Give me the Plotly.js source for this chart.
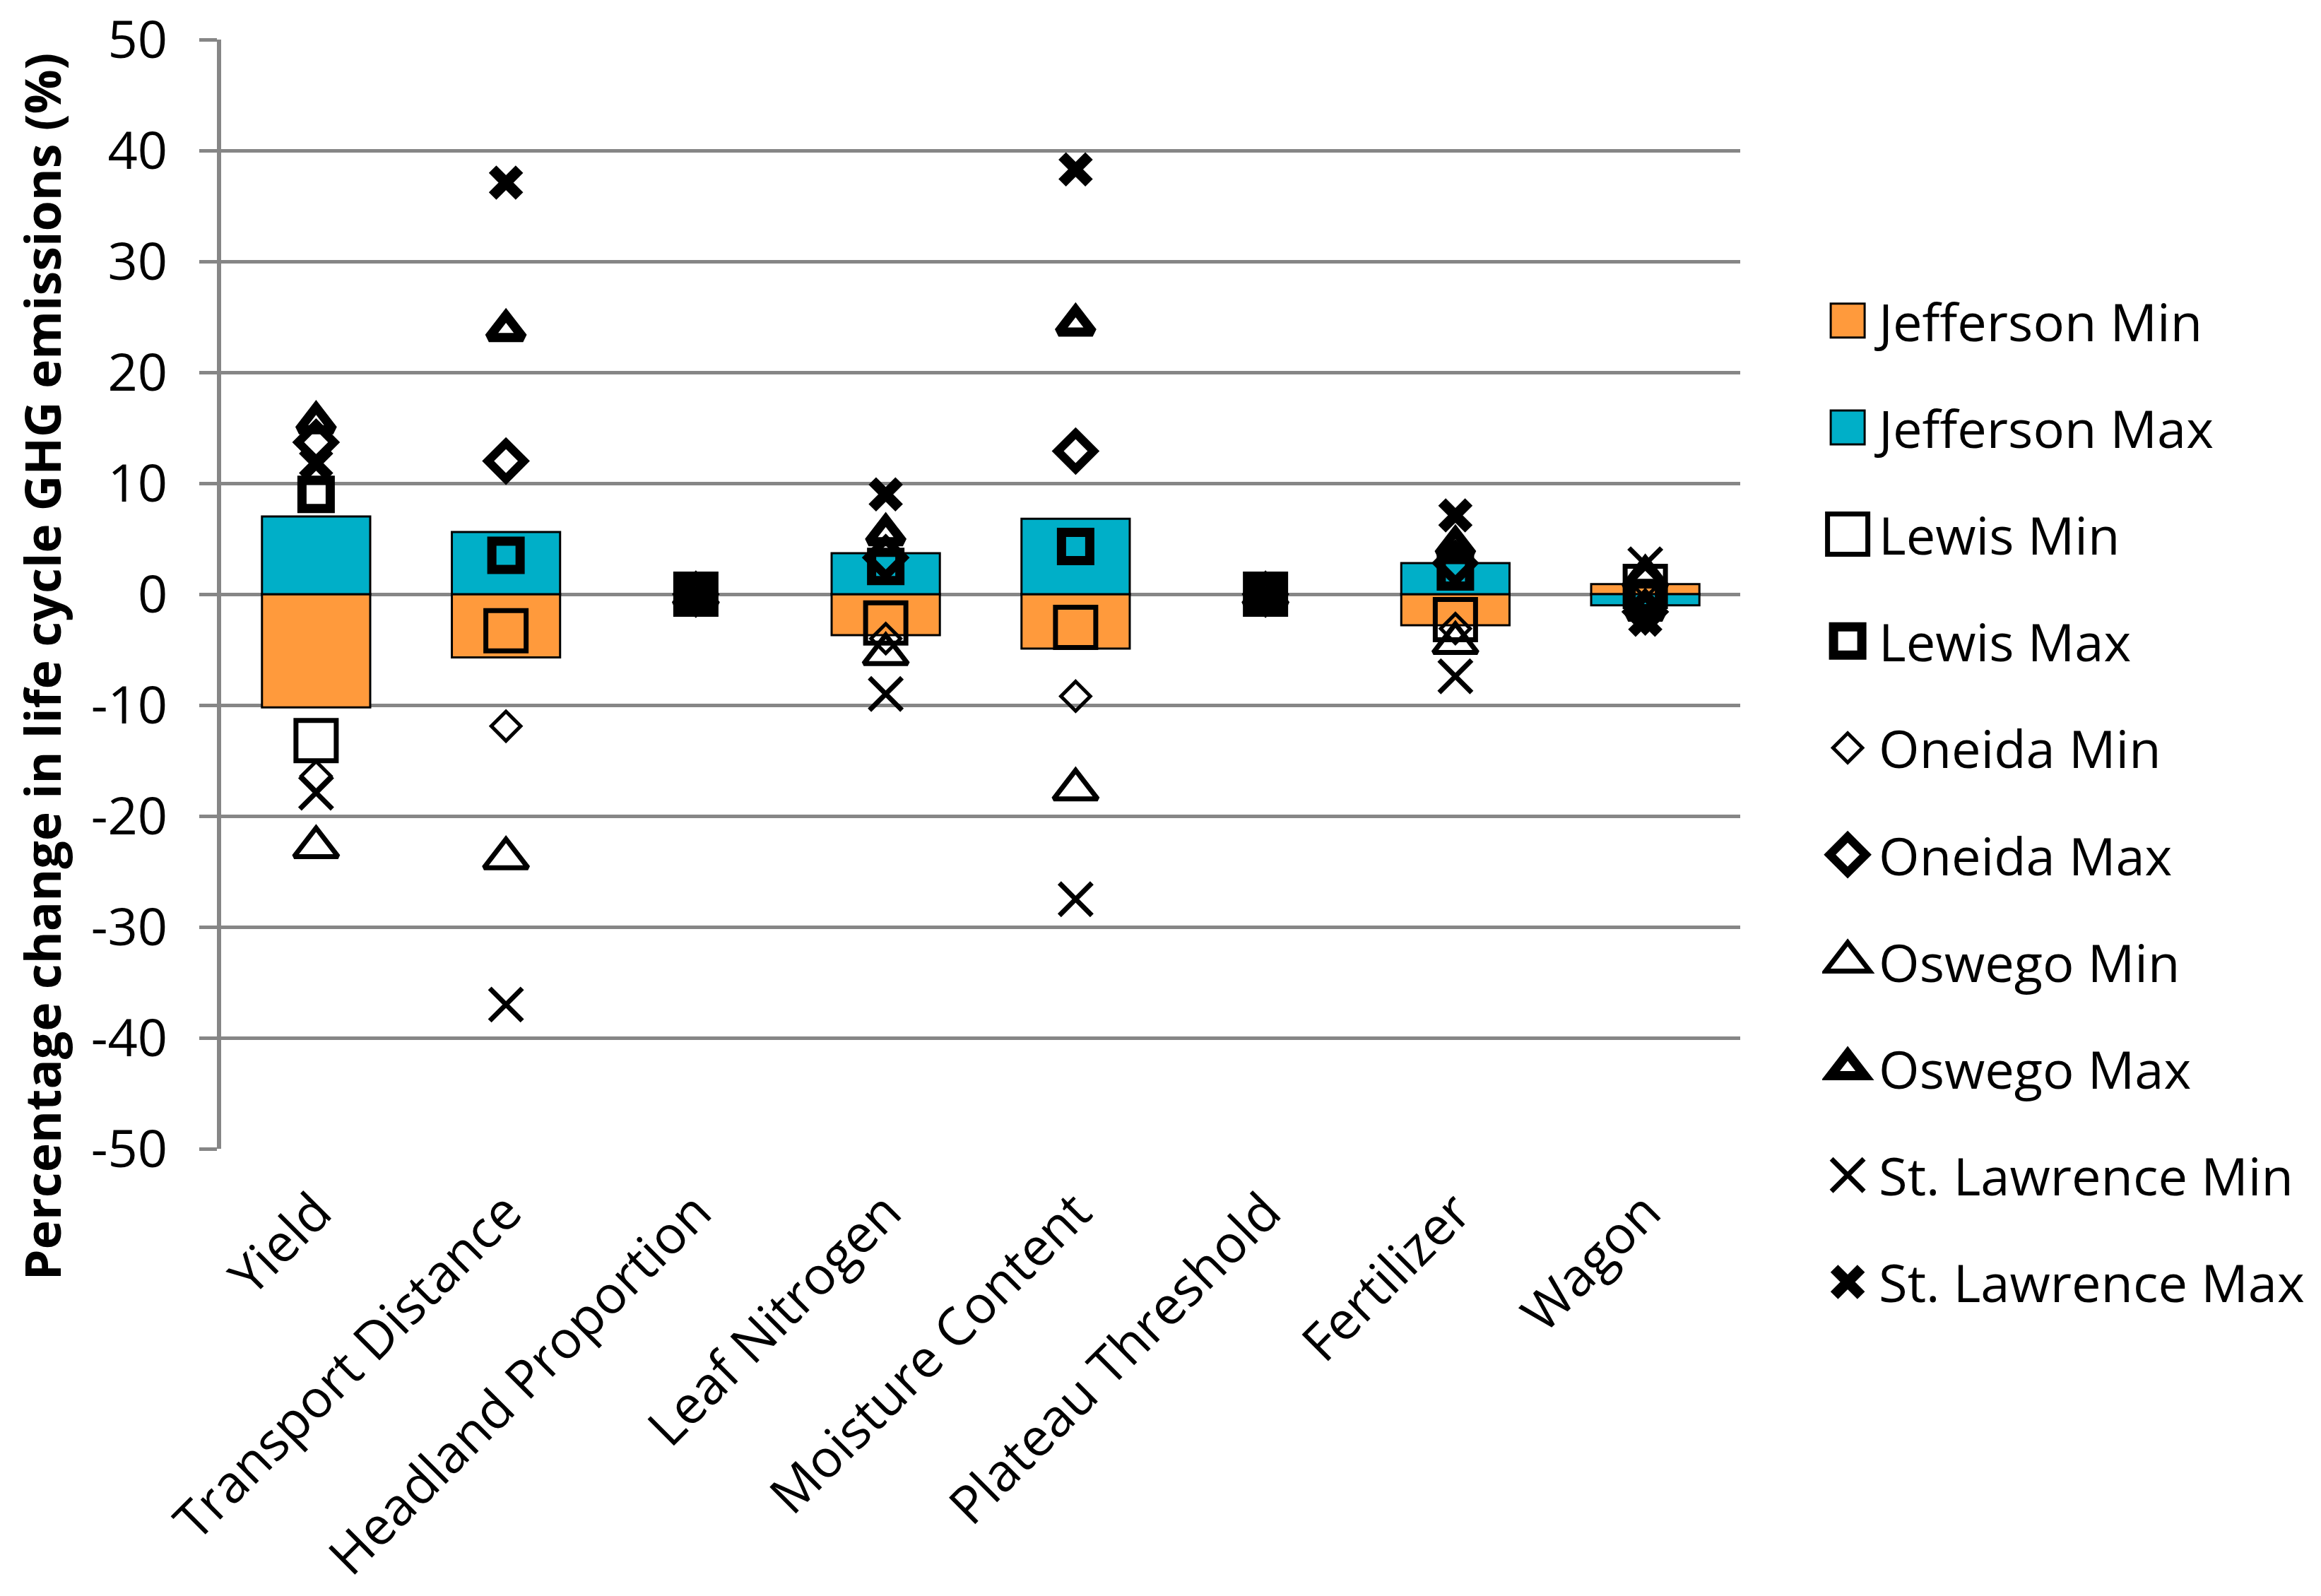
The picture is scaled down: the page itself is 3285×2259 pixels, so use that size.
<!DOCTYPE html>
<html><head><meta charset="utf-8">
<script src="https://cdn.plot.ly/plotly-3.0.1.min.js"></script>
<style>html,body{margin:0;padding:0;background:#fff}</style>
</head><body>
<div id="chart" style="width:3285px;height:2259px"></div>
<script>
const categories = ['Yield','Transport Distance','Headland Proportion','Leaf Nitrogen','Moisture Content','Plateau Threshold','Fertilizer','Wagon'];
const jeffersonMin  = [-10.2, -5.7, 0, -3.7, -4.9, 0, -2.8,  0.9];
const jeffersonMax  = [  7.0,  5.6, 0,  3.7,  6.8, 0,  2.8, -1.0];
const lewisMin      = [-13.2, -3.3, 0, -2.6, -3.0, 0, -2.3,  0.7];
const lewisMax      = [  9.0,  3.5, 0,  2.5,  4.3, 0,  2.0, -0.3];
const oneidaMin     = [-16.4,-11.9, 0, -4.0, -9.2, 0, -3.1,  1.0];
const oneidaMax     = [ 13.7, 12.0, 0,  3.3, 12.9, 0,  2.8, -1.6];
const oswegoMin     = [-22.8,-23.8, 0, -5.4,-17.6, 0, -4.4,  1.6];
const oswegoMax     = [ 15.5, 23.8, 0,  5.4, 24.3, 0,  4.3, -1.4];
const stLawrenceMin = [-17.9,-37.0, 0, -9.0,-27.5, 0, -7.4,  2.7];
const stLawrenceMax = [ 11.8, 37.1, 0,  9.0, 38.3, 0,  7.1, -2.3];
const yTickVals = [-50,-40,-30,-20,-10,0,10,20,30,40,50];
const yTickText = ['-50','-40','-30','-20','-10','0','10','20','30','40','50'];
const yTitle = 'Percentage change in life cycle GHG emissions (%)';

const GRID = '#868686';
const FONT = 'Open Sans, Noto Sans, sans-serif';

const markerSeries = [
  {name:'Lewis Min',        y:lewisMin,      symbol:'square-open',      size:57, lw:7},
  {name:'Lewis Max',        y:lewisMax,      symbol:'square-open',      size:40, lw:13},
  {name:'Oneida Min',       y:oneidaMin,     symbol:'diamond-open',     size:32, lw:5},
  {name:'Oneida Max',       y:oneidaMax,     symbol:'diamond-open',     size:39, lw:12},
  {name:'Oswego Min',       y:oswegoMin,     symbol:'triangle-up-open', size:54, lw:7},
  {name:'Oswego Max',       y:oswegoMax,     symbol:'triangle-up-open', size:42, lw:13},
  {name:'St. Lawrence Min', y:stLawrenceMin, symbol:'x-thin-open',      size:46, lw:7},
  {name:'St. Lawrence Max', y:stLawrenceMax, symbol:'x-thin-open',      size:38, lw:15}
];

const barLine = v => v.map(val => val === 0 ? 0 : 3);

const traces = [
  {type:'bar', name:'Jefferson Min', x:categories, y:jeffersonMin, legendgroup:'g0',
   marker:{color:'#FF9A3C', line:{color:'#000', width:barLine(jeffersonMin)}}},
  {type:'bar', name:'Jefferson Max', x:categories, y:jeffersonMax, legendgroup:'g1',
   marker:{color:'#00AFC8', line:{color:'#000', width:barLine(jeffersonMax)}}}
].concat(markerSeries.map((s,i)=>({
  type:'scatter', mode:'markers', name:s.name, x:categories, y:s.y, legendgroup:'g'+(i+2),
  cliponaxis:false,
  marker:{symbol:s.symbol, size:s.size, color:'#000', line:{color:'#000', width:s.lw}}
})));

const boundaries = categories.map((c,i)=>i-0.5).concat([categories.length-0.5]);

const layout = {
  width:3285, height:2259,
  margin:{l:313, r:822, t:56, b:633, pad:0},
  paper_bgcolor:'#ffffff', plot_bgcolor:'#ffffff',
  barmode:'overlay', bargap:0.43,
  font:{family:FONT, size:74, color:'#000'},
  showlegend:true,
  legend:{x:1.054, xanchor:'left', y:0.313, yanchor:'middle',
          font:{family:FONT, size:74, color:'#000'},
          itemwidth:70, tracegroupgap:52, bgcolor:'rgba(0,0,0,0)'},
  xaxis:{type:'category', categoryorder:'array', categoryarray:categories,
         range:[-0.5, categories.length-0.5], tickangle:-45,
         showline:false, ticks:'', showgrid:false, zeroline:false,
         ticklabelstandoff:30,
         tickfont:{family:FONT, size:74, color:'#000'}},
  xaxis2:{overlaying:'x', anchor:'free', position:0.5,
          range:[-0.5, categories.length-0.5],
          tickmode:'array', tickvals:boundaries,
          ticks:'outside', ticklen:24, tickwidth:6, tickcolor:GRID,
          showline:true, linecolor:GRID, linewidth:6,
          showticklabels:false, showgrid:false, zeroline:false},
  yaxis:{range:[-50,50], tickmode:'array', tickvals:yTickVals, ticktext:yTickText,
         ticks:'outside', ticklen:25, tickwidth:5, tickcolor:GRID,
         showline:true, linecolor:GRID, linewidth:6,
         showgrid:true, gridcolor:GRID, gridwidth:5, zeroline:false,
         tickfont:{family:FONT, size:74, color:'#000'}, ticklabelstandoff:30},
  annotations:[{text:yTitle, textangle:-90, xref:'paper', yref:'paper',
                x:-0.118, y:0.435, xanchor:'center', yanchor:'middle', showarrow:false,
                font:{family:'Liberation Sans Narrow, Open Sans, sans-serif', size:70, weight:'bold', color:'#000'}}]
};

Plotly.newPlot('chart', traces, layout, {staticPlot:true}).then(gd => {
  gd.querySelectorAll('.legend .traces').forEach(item => {
    const d = item.__data__;
    const t = d && d[0] && d[0].trace;
    if(!t) return;
    const txt = item.querySelector('text.legendtext');
    const tx = txt ? parseFloat(txt.getAttribute('x')) : 80;
    let k, w;
    if(t.type === 'bar'){ k = 4; w = 3; }
    else { k = t.marker.size/16; w = t.marker.line.width; }
    item.querySelectorAll('.legendpoints path').forEach(p => {
      p.setAttribute('transform', 'translate(' + (tx-44) + ',0) scale(' + k + ')');
      p.style.strokeWidth = (w/k) + 'px';
    });
  });
});
</script>
</body></html>
